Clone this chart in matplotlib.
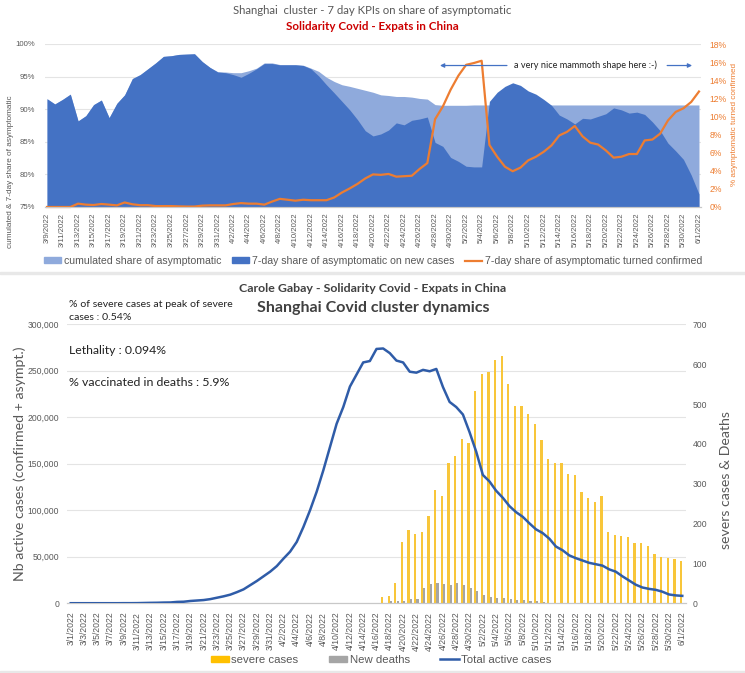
"""
Shanghai Covid cluster: 7 day KPIs on the share of asymptomatic cases (top)
and active, severe and fatal cases over time (bottom).
"""
import pandas as pd
import matplotlib.pyplot as plt
from matplotlib.lines import Line2D
from matplotlib.patches import Patch, Rectangle

top_dates = pd.date_range("2022-03-09", "2022-06-01")
bottom_dates = pd.date_range("2022-03-01", "2022-06-01")

share_7day = [
    91.6, 90.8, 91.5, 92.3, 88.2, 89.0, 90.7, 91.4, 88.7, 90.9, 92.2, 94.7,
    95.3, 96.2, 97.1, 98.1, 98.2, 98.4, 98.45, 98.5, 97.3, 96.4, 95.7, 95.6,
    95.3, 94.9, 95.5, 96.2, 97.0, 97.0, 96.8, 96.8, 96.8, 96.7, 96.2, 95.1,
    93.75, 92.5, 91.2, 89.9, 88.4, 86.7, 85.9, 86.2, 86.8, 87.9, 87.6, 88.3,
    88.5, 88.8, 84.9, 84.3, 82.6, 82.0, 81.25, 81.15, 81.15, 91.2, 92.6, 93.5,
    94.05, 93.65, 92.8, 92.3, 91.5, 90.6, 89.1, 88.5, 87.75, 88.6, 88.5, 88.9,
    89.3, 90.2, 89.9, 89.4, 89.55, 89.2, 88.05, 86.7, 84.8, 83.6, 82.3, 79.9,
    77.0,
]
share_cumulated = [
    91.6, 90.8, 91.5, 92.3, 88.2, 89.0, 90.7, 91.4, 88.7, 90.9, 92.2, 94.7,
    95.3, 96.2, 97.1, 98.1, 98.2, 98.4, 98.45, 98.5, 97.3, 96.4, 95.75, 95.7,
    95.6, 95.6, 95.9, 96.3, 97.1, 97.1, 96.85, 96.85, 96.85, 96.75, 96.3, 95.8,
    94.9, 94.25, 93.75, 93.5, 93.2, 92.9, 92.6, 92.2, 92.1, 91.95, 91.95,
    91.85, 91.65, 91.55, 90.7, 90.6, 90.6, 90.6, 90.6, 90.65, 90.65, 90.65,
    90.65, 90.65, 90.65, 90.65, 90.65, 90.65, 90.65, 90.65, 90.65, 90.65,
    90.65, 90.65, 90.65, 90.65, 90.65, 90.65, 90.65, 90.65, 90.65, 90.65,
    90.65, 90.65, 90.65, 90.65, 90.65, 90.65, 90.65,
]
turned_confirmed = [
    0, 0, 0, 0, 0.37, 0.26, 0.22, 0.33, 0.26, 0.18, 0.5, 0.3, 0.2, 0.2, 0.1,
    0.1, 0.1, 0.07, 0.05, 0.05, 0.15, 0.18, 0.18, 0.18, 0.33, 0.43, 0.37, 0.37,
    0.26, 0.6, 0.9, 0.8, 0.7, 0.8, 0.75, 0.75, 0.75, 1.05, 1.6, 2.05, 2.55,
    3.15, 3.6, 3.55, 3.65, 3.35, 3.4, 3.45, 4.2, 4.85, 9.7, 11.1, 12.95, 14.5,
    15.7, 15.9, 16.15, 6.85, 5.55, 4.45, 3.95, 4.35, 5.15, 5.55, 6.1, 6.8, 7.9,
    8.3, 8.95, 7.8, 7.1, 6.9, 6.25, 5.45, 5.55, 5.85, 5.85, 7.35, 7.45, 8.1,
    9.55, 10.5, 10.9, 11.6, 12.75,
]

active_cases = [
    100, 100, 100, 100, 100, 100, 100, 100, 150, 150, 200, 350, 500, 600, 800,
    900, 1500, 1700, 2500, 3000, 3500, 4500, 6000, 7500, 9300, 12000, 15000,
    19500, 24000, 29000, 34000, 40000, 48000, 55500, 66000, 82000, 100000,
    120000, 143000, 168000, 193000, 211000, 233000, 246000, 259000, 260500,
    273500, 274000, 269000, 261000, 259000, 249000, 248000, 251000, 249500,
    252000, 232500, 216500, 211000, 203000, 184000, 163000, 138000, 131000,
    121000, 113500, 104500, 98000, 93000, 86000, 79500, 75500, 69500, 61000,
    57000, 51500, 48500, 46000, 43500, 42000, 40500, 36500, 34000, 29000,
    24500, 20000, 17000, 15500, 14500, 12500, 9500, 8500, 8000,
]
severe_cases = [0] * 47 + [
    16, 19, 51, 155, 183, 174, 178, 218, 285, 270, 351, 369, 412, 403, 533,
    575, 580, 610, 620, 550, 495, 494, 476, 449, 409, 363, 351, 351, 325, 322,
    279, 263, 253, 268, 178, 172, 170, 166, 151, 151, 144, 123, 117, 113, 110,
    106,
]
new_deaths = [0] * 47 + [
    1, 7, 7, 7, 11, 12, 39, 48, 51, 48, 47, 52, 47, 38, 32, 20, 16, 13, 13, 12,
    8, 9, 5, 6, 4, 1, 1, 2, 2, 1, 2, 1, 0, 0, 0, 1, 0, 0, 0, 0, 0, 0, 0, 0, 0,
    0,
]

BLUE_LIGHT = "#8faadc"
BLUE_DARK = "#4472c4"
ORANGE = "#ed7d31"
GOLD = "#ffc000"
BAR_GOLD = "#f8c63a"
BAR_GREY = "#a5a5a5"
LINE_BLUE = "#2f5ca8"
GREY = "#595959"
GRID = "#e4e4e4"
W, H = 745, 673


def date_label(d):
    return f"{d.month}/{d.day}/{d.year}"


def add_axes_px(fig, left, top, right, bottom):
    return fig.add_axes([left / W, 1 - bottom / H, (right - left) / W,
                         (bottom - top) / H])


def clean_spines(ax):
    for side in ["top", "left", "right"]:
        ax.spines[side].set_visible(False)
    ax.spines["bottom"].set_color("#c8c8c8")


def thin_arrow(ax, start, end):
    ax.annotate("", xy=(end, 0.868), xytext=(start, 0.868),
                xycoords="axes fraction",
                arrowprops=dict(arrowstyle="-|>", color=BLUE_DARK, lw=0.9,
                                mutation_scale=6, shrinkA=0, shrinkB=0))


def draw_top(fig):
    x = list(range(len(top_dates)))
    ax = add_axes_px(fig, 44.7, 44, 701.3, 207)
    ax.fill_between(x, share_cumulated, 75, color=BLUE_LIGHT, lw=0)
    ax.fill_between(x, share_7day, 75, color=BLUE_DARK, lw=0)
    ax.set_xlim(-0.3, 84.3)
    ax.set_ylim(75, 100)
    ax.set_yticks(range(75, 101, 5))
    ax.set_yticklabels([f"{v}%" for v in range(75, 101, 5)], fontsize=5.6,
                       color=GREY, family="Liberation Sans")
    ax.set_xticks(x[::2])
    ax.set_xticklabels([date_label(d) for d in top_dates[::2]], rotation=90,
                       fontsize=5.6, color=GREY, family="Liberation Sans")
    ax.tick_params(axis="y", length=0, pad=7)
    ax.tick_params(axis="x", length=0, pad=4)
    ax.grid(axis="y", color=GRID, lw=0.8)
    ax.set_axisbelow(True)
    clean_spines(ax)
    ax.set_ylabel("cumulated & 7-day share of asymptomatic", fontsize=5.9,
                  color=GREY, family="Liberation Sans")
    ax.yaxis.set_label_coords((14 - 44.7) / 656.6, (207 - 172) / 163)

    ax2 = ax.twinx()
    ax2.plot(x, turned_confirmed, color=ORANGE, lw=1.6, clip_on=False)
    ax2.set_ylim(0, 18)
    ax2.set_yticks(range(0, 19, 2))
    ax2.set_yticklabels([f"{v}%" for v in range(0, 19, 2)], fontsize=6.2,
                        color=ORANGE, family="Liberation Sans")
    ax2.tick_params(axis="y", length=0, pad=6)
    clean_spines(ax2)
    ax2.set_ylabel("% asymptomatic turned confirmed", fontsize=5.9,
                   color=ORANGE, family="Liberation Sans")
    ax2.yaxis.set_label_coords((731 - 44.7) / 656.6, (207 - 125) / 163)

    ax2.text(0.823, 0.868, "a very nice mammoth shape here :-)", fontsize=6.6,
             color="#222222", family="Lato", ha="center", va="center",
             transform=ax2.transAxes)
    thin_arrow(ax2, 0.704, 0.602)
    thin_arrow(ax2, 0.948, 0.986)

    fig.text(372 / W, 1 - 11 / H,
             "Shanghai  cluster - 7 day KPIs on share of asymptomatic",
             fontsize=8.2, color=GREY, family="Lato",
             ha="center", va="center")
    fig.text(372 / W, 1 - 26 / H, "Solidarity Covid - Expats in China",
             fontsize=8.4, color="#cc0000", family="Lato",
             fontweight="bold", ha="center", va="center")

    handles = [Patch(color=BLUE_LIGHT), Patch(color=BLUE_DARK),
               Line2D([], [], color=ORANGE, lw=1.6)]
    labels = ["cumulated share of asymptomatic",
              "7-day share of asymptomatic on new cases",
              "7-day share of asymptomatic turned confirmed"]
    fig.legend(handles, labels, loc="center", ncols=3, frameon=False,
               bbox_to_anchor=(373 / W, 1 - 261 / H),
               prop={"family": "Liberation Sans", "size": 7.6},
               labelcolor=GREY, handlelength=1.6, handleheight=0.45,
               handletextpad=0.25, columnspacing=1.05, borderpad=0)


def draw_bottom(fig):
    x = list(range(len(bottom_dates)))
    ax = add_axes_px(fig, 67.4, 324.3, 685.6, 603.3)
    ax.set_xlim(-0.5, 92.5)
    ax.set_ylim(0, 300000)
    ax.set_yticks(range(0, 300001, 50000))
    ax.set_yticklabels([f"{v:,}" for v in range(0, 300001, 50000)],
                       fontsize=6.2, color=GREY, family="Liberation Sans")
    ax.set_xticks(x[::2])
    ax.set_xticklabels([date_label(d) for d in bottom_dates[::2]], rotation=90,
                       fontsize=6.2, color=GREY, family="Liberation Sans")
    ax.tick_params(axis="both", length=0, pad=6)
    ax.grid(axis="y", color=GRID, lw=0.8)
    ax.set_axisbelow(True)
    clean_spines(ax)
    ax.set_ylabel("Nb active cases (confirmed + asympt.)", fontsize=10.2,
                  color=GREY, family="Lato")
    ax.yaxis.set_label_coords((26 - 67.4) / 618.2, (603.3 - 463.5) / 279)

    ax2 = ax.twinx()
    ax2.bar([i - 0.17 for i in x], severe_cases, width=0.34, color=BAR_GOLD)
    ax2.bar([i + 0.17 for i in x], new_deaths, width=0.32, color=BAR_GREY)
    ax2.set_ylim(0, 700)
    ax2.set_yticks(range(0, 701, 100))
    ax2.set_yticklabels([str(v) for v in range(0, 701, 100)], fontsize=6.2,
                        color=GREY, family="Liberation Sans")
    ax2.tick_params(axis="y", length=0, pad=5)
    clean_spines(ax2)
    ax2.set_ylabel("severs cases & Deaths", fontsize=10.2, color=GREY,
                   family="Lato")
    ax2.yaxis.set_label_coords((720 - 67.4) / 618.2, (603.3 - 480) / 279)

    # the line goes on a third layer so that it stays above the bars
    ax3 = ax.twinx()
    ax3.plot(x, active_cases, color=LINE_BLUE, lw=1.8)
    ax3.set_ylim(0, 300000)
    ax3.axis("off")

    fig.text(373 / W, 1 - 289 / H,
             "Carole Gabay - Solidarity Covid - Expats in China",
             fontsize=8.9, color="#404040", family="Lato",
             fontweight="bold", ha="center", va="center")
    fig.text(373 / W, 1 - 308 / H, "Shanghai Covid cluster dynamics",
             fontsize=11.5, color="#404040", family="Lato",
             fontweight="bold", ha="center", va="center")
    fig.text(69 / W, 1 - 304.5 / H, "% of severe cases at peak of severe",
             fontsize=7.55, color="#222222", family="Lato", va="center")
    fig.text(69 / W, 1 - 318 / H, "cases : 0.54%", fontsize=7.55,
             color="#222222", family="Lato", va="center")
    fig.text(69 / W, 1 - 350 / H, "Lethality : 0.094%", fontsize=8.8,
             color="#222222", family="Lato", va="center")
    fig.text(69 / W, 1 - 382.5 / H, "% vaccinated in deaths : 5.9%",
             fontsize=8.95, color="#222222", family="Lato", va="center")

    handles = [Patch(color=GOLD), Patch(color=BAR_GREY),
               Line2D([], [], color=LINE_BLUE, lw=1.8)]
    labels = ["severe cases", "New deaths", "Total active cases"]
    fig.legend(handles, labels, loc="center", ncols=3, frameon=False,
               bbox_to_anchor=(381 / W, 1 - 660 / H),
               prop={"family": "Liberation Sans", "size": 8.2},
               labelcolor=GREY, handlelength=1.6, handleheight=0.5,
               handletextpad=0.2, columnspacing=2.7, borderpad=0)


def main():
    fig = plt.figure(figsize=(W / 100, H / 100), dpi=100)
    fig.add_artist(Rectangle((0, 1 - 274 / H), 1, 2 / H, color="#e8e8e8",
                             transform=fig.transFigure))
    fig.add_artist(Rectangle((0, 1 - 673 / H), 1, 2 / H, color="#e8e8e8",
                             transform=fig.transFigure))
    draw_top(fig)
    draw_bottom(fig)
    fig.savefig("out.png", dpi=100)


if __name__ == '__main__':
    main()
